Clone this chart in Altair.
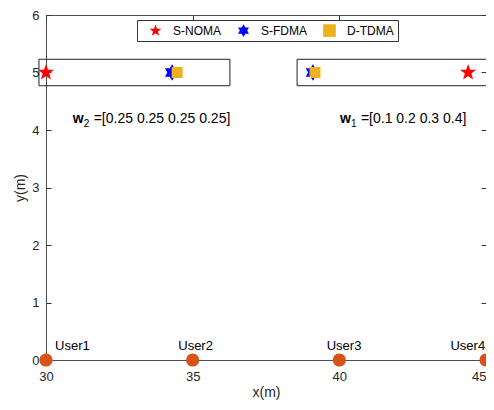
import altair as alt
import pandas as pd

# ---------------- data ----------------
methods = ["S-NOMA", "S-FDMA", "D-TDMA"]
method_colors = ["#FF0000", "#0000FF", "#EDB120"]

# (left group = w2, right group = w1)
noma_x = [30.0, 44.39]
noma_y = [5.0, 5.0]
fdma_x = [34.3, 39.1]
fdma_y = [5.0, 5.0]
tdma_x = [34.47, 39.17]
tdma_y = [5.0, 5.0]

user_names = ["User1", "User2", "User3", "User4"]
user_x = [30, 35, 40, 45]
user_y = [0, 0, 0, 0]
user_label_x = [30.9, 35.1, 40.16, 44.38]
user_label_y = [0.17, 0.17, 0.17, 0.17]

box_x1 = [29.76, 38.56]
box_x2 = [36.27, 45.05]
box_y1 = [4.77, 4.77]
box_y2 = [5.23, 5.23]

ann_x = [30.91, 40.02]
ann_y = [4.13, 4.13]
ann_main = ["w", "w"]
ann_sub = ["2", "1"]
ann_text = ["=[0.25 0.25 0.25 0.25]", "=[0.1 0.2 0.3 0.4]"]

x_ticks = [30, 35, 40, 45]
y_ticks = [0, 1, 2, 3, 4, 5, 6]

# ---------------- shapes ----------------
STAR = ("M0,-1L0.235,-0.324L0.951,-0.309L0.380,0.124L0.588,0.809L0,0.4"
        "L-0.588,0.809L-0.380,0.124L-0.951,-0.309L-0.235,-0.324Z")
HEX = ("M0,-1L0.289,-0.5L0.866,-0.5L0.577,0L0.866,0.5L0.289,0.5L0,1"
       "L-0.289,0.5L-0.866,0.5L-0.577,0L-0.866,-0.5L-0.289,-0.5Z")
method_shapes = [STAR, HEX, "square"]

# ---------------- tables ----------------
noma = pd.DataFrame({"x": noma_x, "y": noma_y, "method": methods[0]})
fdma = pd.DataFrame({"x": fdma_x, "y": fdma_y, "method": methods[1]})
tdma = pd.DataFrame({"x": tdma_x, "y": tdma_y, "method": methods[2]})
users = pd.DataFrame({"x": user_x, "y": user_y, "name": user_names,
                      "lx": user_label_x, "ly": user_label_y})
boxes = pd.DataFrame({"x1": box_x1, "x2": box_x2, "y1": box_y1, "y2": box_y2})
ann = pd.DataFrame({"x": ann_x, "y": ann_y, "main": ann_main, "sub": ann_sub, "text": ann_text})

xs = alt.Scale(domain=[30, 45], nice=False, zero=False)
ys = alt.Scale(domain=[0, 6], nice=False, zero=False)

common_axis = dict(domain=False, tickSize=5, offset=-5, tickColor="#333333",
                   grid=False)

# boxes carry top/right inward tick axes
box_layer = alt.Chart(boxes).mark_rect(filled=False, stroke="#222222", strokeWidth=1).encode(
    x=alt.X("x1:Q", scale=xs, axis=alt.Axis(orient="top", labels=False, title=None,
                                             values=x_ticks, **common_axis)),
    x2="x2:Q",
    y=alt.Y("y1:Q", scale=ys, axis=alt.Axis(orient="right", labels=False, title=None,
                                             values=y_ticks, **common_axis)),
    y2="y2:Q",
)

user_layer = alt.Chart(users).mark_circle(size=175, color="#D95319", opacity=1).encode(
    x=alt.X("x:Q", scale=xs, axis=alt.Axis(
        orient="bottom", values=x_ticks, title="x(m)",
        labelFontSize=13, labelPadding=10, labelColor="#262626",
        labelAlign={"condition": {"test": "datum.value >= 45", "value": "right"},
                    "value": "center"},
        titleFontSize=14, titleFontWeight="normal",
        titlePadding=2, titleColor="#262626",
        labelFlush=False, **common_axis)),
    y=alt.Y("y:Q", scale=ys, axis=alt.Axis(
        orient="left", values=y_ticks, title="y(m)",
        labelFontSize=13, labelPadding=7, labelColor="#262626",
        titleFontSize=14, titleFontWeight="normal",
        titlePadding=4, titleColor="#262626",
        labelFlush=False, **common_axis)),
)

user_text = alt.Chart(users).mark_text(fontSize=13, align="center", baseline="alphabetic",
                                       color="#000000").encode(
    x=alt.X("lx:Q", scale=xs, axis=None),
    y=alt.Y("ly:Q", scale=ys, axis=None),
    text="name:N",
)

legend = alt.Legend(title=None, orient="none", legendX=91, legendY=5,
                    direction="horizontal")
color_enc = alt.Color("method:N", scale=alt.Scale(domain=methods, range=method_colors),
                      legend=legend)
shape_enc = alt.Shape("method:N", scale=alt.Scale(domain=methods, range=method_shapes),
                      legend=legend)


def method_layer(df, size):
    return alt.Chart(df).mark_point(filled=True, opacity=1, strokeWidth=0, size=size).encode(
        x=alt.X("x:Q", scale=xs, axis=None),
        y=alt.Y("y:Q", scale=ys, axis=None),
        color=color_enc,
        shape=shape_enc,
    )


ann_w = alt.Chart(ann).mark_text(fontSize=14, fontWeight="bold", align="left",
                                 baseline="alphabetic", color="#000000").encode(
    x=alt.X("x:Q", scale=xs, axis=None), y=alt.Y("y:Q", scale=ys, axis=None), text="main:N")
ann_s = alt.Chart(ann).mark_text(fontSize=10, align="left", baseline="alphabetic",
                                 dx=11, dy=4, color="#000000").encode(
    x=alt.X("x:Q", scale=xs, axis=None), y=alt.Y("y:Q", scale=ys, axis=None), text="sub:N")
ann_t = alt.Chart(ann).mark_text(fontSize=14, align="left", baseline="alphabetic",
                                 dx=21, color="#000000").encode(
    x=alt.X("x:Q", scale=xs, axis=None), y=alt.Y("y:Q", scale=ys, axis=None), text="text:N")

chart = alt.layer(
    box_layer, user_layer, user_text,
    method_layer(noma, 290), method_layer(fdma, 280), method_layer(tdma, 121),
    ann_w, ann_s, ann_t
).resolve_axis(x="independent", y="independent").properties(
    width=440, height=345,
    autosize=alt.AutoSizeParams(type="none"),
    padding={"left": 38, "top": 7, "right": 0, "bottom": 40},
).configure(
    font="Liberation Sans",
).configure_view(
    stroke="#4d4d4d", strokeWidth=1,
).configure_legend(
    strokeColor="#333333", fillColor="#ffffff", padding=4, symbolOffset=8,
    labelOffset=11, columnPadding=8, symbolSize=160, labelFontSize=12,
    labelColor="#000000", symbolStrokeWidth=0,
)

chart.save("out.html", embed_options={"renderer": "svg", "actions": False})
